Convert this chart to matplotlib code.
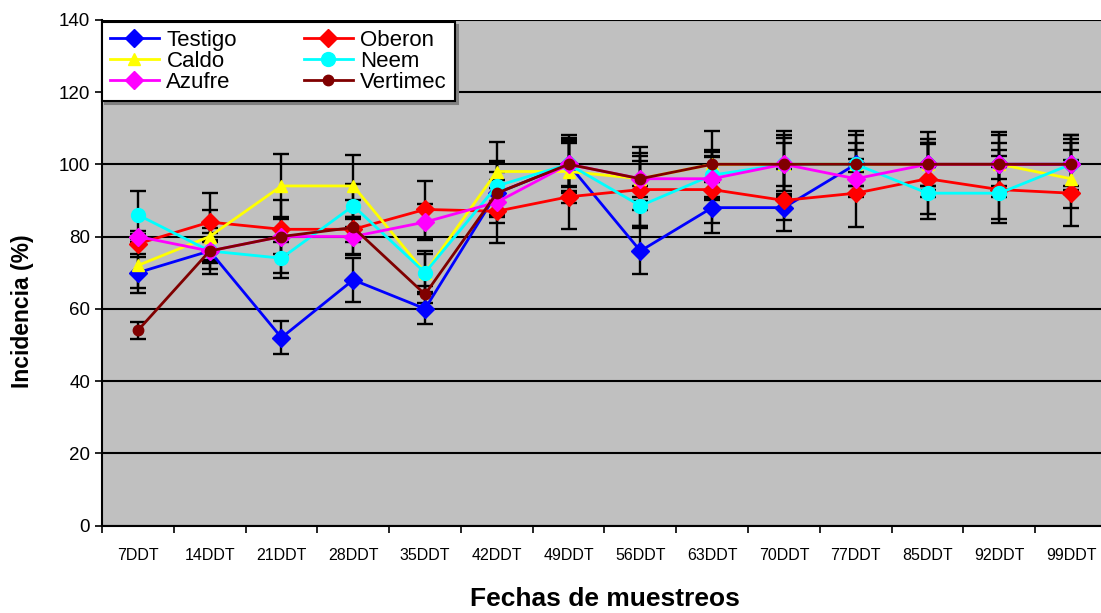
# GRAFICO DE INCIDENCIA POR FECHA DE MUESTREO

import numpy as np
import matplotlib
matplotlib.use('Agg')
import matplotlib.pyplot as plt

plt.rcParams['font.family'] = ['Liberation Sans', 'DejaVu Sans']

# DATOS

fechas = ['7DDT', '14DDT', '21DDT', '28DDT', '35DDT', '42DDT', '49DDT',
          '56DDT', '63DDT', '70DDT', '77DDT', '85DDT', '92DDT', '99DDT']

testigo = [70, 76, 52, 68, 60, 92, 100, 76, 88, 88, 100, 100, 100, 100]
oberon = [78, 84, 82, 82, 87.5, 87, 91, 93, 93, 90, 92, 96, 93, 92]
caldo = [72, 80, 94, 94, 70, 98, 98, 96, 100, 100, 100, 100, 100, 96]
neem = [86, 76, 74, 88.5, 70, 94, 100, 88.5, 97, 100, 100, 92, 92, 100]
azufre = [80, 76, 80, 80, 84, 89.5, 100, 96, 96, 100, 96, 100, 100, 100]
vertimec = [54, 76, 80, 82.5, 64, 92, 100, 96, 100, 100, 100, 100, 100, 100]

err_testigo = [4.3, 6.4, 4.5, 6, 4.3, 6, 6, 6.3, 7, 3.3, 6, 6, 6, 6]
err_oberon = [2.8, 8, 3.5, 3.5, 8, 8.7, 9, 10, 9.2, 8.6, 9.5, 9.7, 9.2, 9.1]
err_caldo = [7.5, 7.4, 8.8, 8.6, 5.3, 8.2, 8.6, 5, 4, 6, 4, 6, 4, 8]
err_neem = [6.6, 3, 5.6, 6, 6, 7, 7.3, 5.6, 6.5, 7.3, 8.2, 7.2, 7.2, 8]
err_azufre = [1.5, 2.5, 4.8, 4.8, 5, 4, 6.3, 6.3, 6, 8.2, 2, 7, 8, 7]
err_vertimec = [2.3, 5, 10.2, 7.7, 2.3, 8.3, 8, 8.7, 9.1, 9.1, 9.1, 9, 9, 8.2]

series = [
    ('Testigo', testigo, err_testigo, '#0000FF', 'D', 9),
    ('Oberon', oberon, err_oberon, '#FF0000', 'D', 9),
    ('Caldo', caldo, err_caldo, '#FFFF00', '^', 9),
    ('Neem', neem, err_neem, '#00FFFF', 'o', 10),
    ('Azufre', azufre, err_azufre, '#FF00FF', 'D', 9),
    ('Vertimec', vertimec, err_vertimec, '#800000', 'o', 7.5),
]

# FIGURA

fig = plt.figure(figsize=(11.01, 6.13), dpi=100)
ax = fig.add_axes([102 / 1101, 87.5 / 613, 1005 / 1101, 505.7 / 613])
ax.set_facecolor('#C0C0C0')

x = np.arange(len(fechas))

lineas = {}
for nombre, valores, errores, color, marcador, tam in series:
    ax.errorbar(x, valores, yerr=errores, fmt='none', ecolor='black',
                elinewidth=1.7, capsize=6, capthick=1.7, zorder=2)
    linea, = ax.plot(x, valores, color=color, marker=marcador, markersize=tam,
                     markeredgecolor=color, linewidth=2, label=nombre, zorder=3)
    lineas[nombre] = linea

ax.set_xlim(-0.5, len(fechas) - 0.5)
ax.set_ylim(0, 140)
ax.set_yticks(np.arange(0, 141, 20))
ax.set_xticks(x)
ax.set_xticklabels(fechas, fontsize=11.5)
ax.set_xticks(np.arange(-0.5, len(fechas), 1), minor=True)
ax.tick_params(axis='x', which='major', length=0, pad=16)
ax.tick_params(axis='x', which='minor', length=5, width=1.2, direction='out')
ax.tick_params(axis='y', labelsize=13.5, length=5, width=1.2, direction='out')

ax.grid(axis='y', color='black', linewidth=1.5)
ax.set_axisbelow(True)
for lado in ['top', 'right']:
    ax.spines[lado].set_visible(False)
ax.spines['left'].set_linewidth(1.5)
ax.spines['bottom'].set_linewidth(1.5)

ax.set_ylabel('Incidencia (%)', fontsize=16.5, fontweight='bold')
ax.yaxis.set_label_coords(-0.068, 0.424)
ax.set_xlabel('Fechas de muestreos', fontsize=19, fontweight='bold')
ax.xaxis.set_label_coords(0.5, -0.122)

orden = ['Testigo', 'Caldo', 'Azufre', 'Oberon', 'Neem', 'Vertimec']
leg = ax.legend([lineas[n] for n in orden], orden, ncol=2, loc='upper left',
                bbox_to_anchor=(0.0, 0.995), borderaxespad=0, fontsize=16,
                frameon=True, fancybox=False, framealpha=1, edgecolor='black',
                labelspacing=0.0, handlelength=2.2, handletextpad=0.35,
                columnspacing=3.0, borderpad=0.35,
                shadow={'color': '#808080', 'alpha': 1})
leg.get_frame().set_linewidth(1.5)

plt.savefig('out.png', dpi=100)
